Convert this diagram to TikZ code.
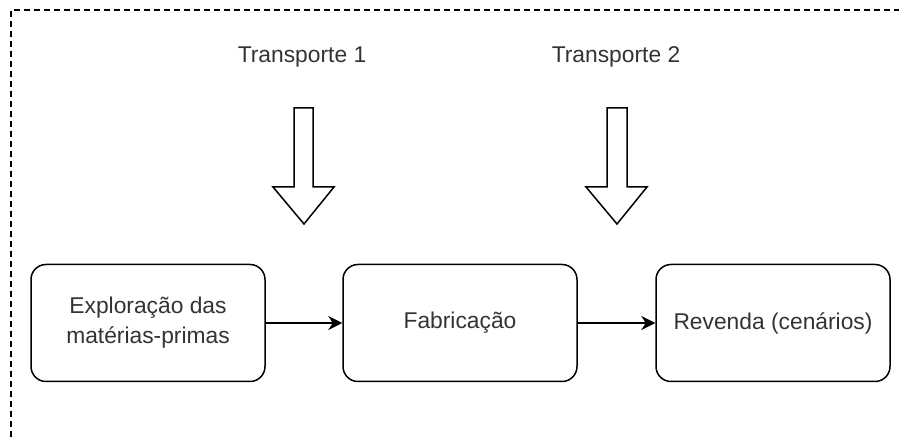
\documentclass[tikz,border=0pt]{standalone}
\usepackage{fontspec}
\setmainfont{Liberation Sans}
\usetikzlibrary{arrows.meta}
\begin{document}
\begin{tikzpicture}[x=0.5pt, y=-0.5pt,
		stage/.style={draw, rounded corners=7.5pt, line width=0.75pt, minimum width=117pt, minimum height=58.5pt, align=center, text=black!80, font=\fontsize{11.4}{15}\selectfont},
		label/.style={text=black!80, font=\fontsize{11.4}{15}\selectfont},
		flow/.style={line width=0.75pt, -{Stealth[length=7pt, width=7pt]}},
		bigarrow/.style={draw, line width=0.75pt, fill=white}]
			\useasboundingbox (0, 0) rectangle (899, 437);
			\draw[line width=0.75pt, dash pattern=on 3pt off 2pt] (11, 437) -- (11, 10) -- (899, 10);
			
			\node[stage] (explo) at (148, 323) {Exploração das\\matérias-primas};
			\node[stage] (fabri) at (460, 323) {Fabricação};
			\node[stage] (reven) at (773, 323) {Revenda (cenários)};
			
			\node[label] (trans1) at (302, 57) {Transporte 1};
			\node[label] (trans2) at (616, 57) {Transporte 2};
			
			\draw[bigarrow] (294, 108) -- (313, 108) -- (313, 187) -- (334, 187) -- (304, 224) -- (273, 187) -- (294, 187) -- cycle;
			\draw[bigarrow] (607, 108) -- (627, 108) -- (627, 187) -- (647, 187) -- (617, 224) -- (586, 187) -- (607, 187) -- cycle;
			
			\draw[flow] (explo) -- (fabri);
			\draw[flow] (fabri) -- (reven);
		\end{tikzpicture}
\end{document}
